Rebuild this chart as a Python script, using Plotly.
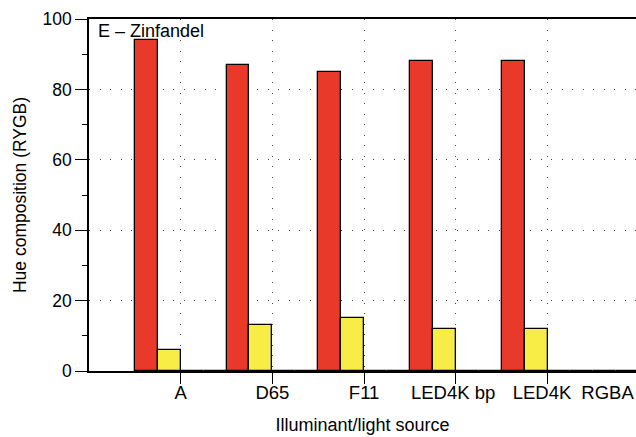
import plotly.graph_objects as go

# Hue composition (percent) per illuminant, split into R / Y / G / B
illuminants = ["A", "D65", "F11", "LED4K bp", "LED4K", "RGBA"]
red = [94, 87, 85, 88, 88, 0]
yellow = [6, 13, 15, 12, 12, 0]
green = [0, 0, 0, 0, 0, 0]
blue = [0, 0, 0, 0, 0, 0]
y_ticks = [0, 20, 40, 60, 80, 100]

series = [
    ("R", red, "#E8392A"),
    ("Y", yellow, "#F8EC47"),
    ("G", green, "#3BA55C"),
    ("B", blue, "#2C6FBF"),
]

FONT = "Liberation Sans, Arial, sans-serif"
idx = list(range(len(illuminants)))
x_max = 4.965

fig = go.Figure()
for name, vals, col in series:
    fig.add_trace(go.Bar(
        x=idx, y=vals, name=name,
        marker=dict(color=col, line=dict(color="black", width=1.3)),
        showlegend=False,
    ))

# label positions: keep the last labels clear of each other and in view
label_pos = [min(i, x_max - 0.31) for i in idx]
label_pos[4] -= 0.06
label_pos[3] -= 0.03

fig.update_layout(
    width=636, height=437,
    margin=dict(l=89, r=0, t=19, b=66),
    paper_bgcolor="white", plot_bgcolor="white",
    barmode="group", bargap=0, bargroupgap=0,
    font=dict(family=FONT, size=17, color="black"),
    xaxis=dict(
        range=[-1, x_max],
        tickvals=idx[:5], showticklabels=False,
        ticks="outside", ticklen=11, tickwidth=1.3, tickcolor="black",
        showline=True, linecolor="black", linewidth=1.5, mirror=True,
        showgrid=True, gridcolor="#444", gridwidth=1.3, griddash="1px,9.5px",
        zeroline=False,
    ),
    xaxis2=dict(
        overlaying="x", range=[-1, x_max], side="bottom",
        tickvals=label_pos, ticktext=illuminants,
        ticks="outside", ticklen=5, tickcolor="rgba(0,0,0,0)",
        showgrid=False, showline=False, zeroline=False,
        tickfont=dict(family=FONT, size=18.5, color="black"),
        title=dict(text="Illuminant/light source", standoff=16,
                   font=dict(family=FONT, size=18, color="black")),
    ),
    yaxis=dict(
        range=[0, 100], tickvals=y_ticks,
        ticks="outside", ticklen=12, tickwidth=1.3, tickcolor="black",
        minor=dict(tickvals=[10, 30, 50, 70, 90], ticks="outside",
                   ticklen=5, tickwidth=1.3, tickcolor="black", showgrid=False),
        showline=True, linecolor="black", linewidth=1.5,
        showgrid=True, gridcolor="#444", gridwidth=1.3, griddash="1px,9.5px",
        zeroline=False,
        tickfont=dict(family=FONT, size=17.5, color="black"),
        title=dict(text="Hue composition (RYGB)", standoff=11,
                   font=dict(family=FONT, size=17.5, color="black")),
    ),
    annotations=[dict(
        text="E \u2013 Zinfandel", xref="paper", yref="paper",
        x=0.012, y=1.0, xanchor="left", yanchor="top", showarrow=False,
        font=dict(family=FONT, size=18, color="black"),
    )],
)

# invisible trace so the label axis is drawn
fig.add_trace(go.Scatter(x=[0], y=[0], xaxis="x2", mode="markers",
                         marker=dict(opacity=0), showlegend=False,
                         hoverinfo="skip"))

fig.write_html("out.html")
